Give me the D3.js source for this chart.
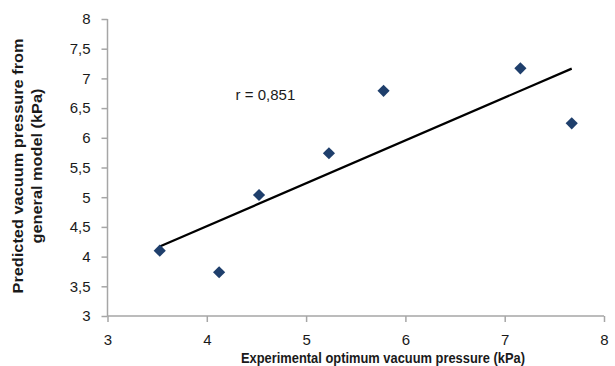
<!DOCTYPE html>
<html>
<head>
<meta charset="utf-8">
<script src="https://cdn.jsdelivr.net/npm/d3@7"></script>
<style>
  html, body { margin: 0; padding: 0; background: #fff; }
  svg { display: block; }
  text { font-family: "Liberation Sans", Arial, sans-serif; }
</style>
</head>
<body>
<svg id="chart" width="615" height="366"></svg>
<script>
// Data
const experimental = [3.526, 4.124, 4.526, 5.23, 5.78, 7.158, 7.675];
const predicted    = [4.10, 3.736, 5.037, 5.74, 6.79, 7.17, 6.244];
const xTicks = [3, 4, 5, 6, 7, 8];
const yTicks = [3, 3.5, 4, 4.5, 5, 5.5, 6, 6.5, 7, 7.5, 8];
const rLabel = "r = 0,851";
const xTitle = "Experimental optimum vacuum pressure (kPa)";
const yTitleLines = ["Predicted vacuum pressure from", "general model (kPa)"];

const svg = d3.select("#chart");
const x = d3.scaleLinear().domain([3, 8]).range([107.5, 604]);
const y = d3.scaleLinear().domain([3, 8]).range([316, 19]);
const fmt = d => String(d).replace(".", ",");
const axisColor = "#a6a6a6";
const labelColor = "#1a1a1a";

// X axis
const gx = svg.append("g").attr("transform", `translate(0,${y(3)})`)
  .call(d3.axisBottom(x).tickValues(xTicks).tickFormat(fmt).tickSize(6).tickPadding(12));
gx.select(".domain").attr("stroke", axisColor).attr("stroke-width", 1.5);
gx.selectAll(".tick line").attr("stroke", axisColor).attr("stroke-width", 1.5);
gx.selectAll(".tick text").attr("font-size", 15).attr("fill", labelColor)
  .attr("font-family", "Liberation Sans, Arial, sans-serif");

// Y axis
const gy = svg.append("g").attr("transform", `translate(${x(3)},0)`)
  .call(d3.axisLeft(y).tickValues(yTicks).tickFormat(fmt).tickSize(6).tickPadding(11));
gy.select(".domain").attr("stroke", axisColor).attr("stroke-width", 1.5);
gy.selectAll(".tick line").attr("stroke", axisColor).attr("stroke-width", 1.5);
gy.selectAll(".tick text").attr("font-size", 15).attr("fill", labelColor)
  .attr("font-family", "Liberation Sans, Arial, sans-serif");

gx.select(".domain").attr("d", `M${x(3)},0H${x(8)}`);
gy.select(".domain").attr("d", `M0,${y(3)}V${y(8)}`);

// Linear trend line (least squares)
const n = experimental.length;
const mx = d3.mean(experimental), my = d3.mean(predicted);
let sxy = 0, sxx = 0;
for (let i = 0; i < n; i++) {
  sxy += (experimental[i] - mx) * (predicted[i] - my);
  sxx += (experimental[i] - mx) ** 2;
}
const slope = sxy / sxx, intercept = my - slope * mx;
const xmin = d3.min(experimental), xmax = d3.max(experimental);
svg.append("line")
  .attr("x1", x(xmin)).attr("y1", y(intercept + slope * xmin))
  .attr("x2", x(xmax)).attr("y2", y(intercept + slope * xmax))
  .attr("stroke", "#000").attr("stroke-width", 2.2);

// Points (diamonds)
const diamond = d3.symbol().type(d3.symbolSquare).size(74);
svg.append("g").selectAll("path").data(experimental).join("path")
  .attr("d", diamond)
  .attr("transform", (d, i) => `translate(${x(d)},${y(predicted[i])}) rotate(45)`)
  .attr("fill", "#1f3f6c");

// r label
svg.append("text").attr("x", x(4.29)).attr("y", y(6.63))
  .attr("font-size", 15).attr("fill", labelColor).text(rLabel);

// X title
svg.append("text").attr("x", 383).attr("y", 362.5)
  .attr("text-anchor", "middle").attr("font-size", 14.5).attr("font-weight", "bold")
  .attr("fill", labelColor)
  .attr("textLength", 284).attr("lengthAdjust", "spacingAndGlyphs")
  .text(xTitle);

// Y title (two lines, rotated)
const yt = svg.append("g").attr("transform", "translate(0,166) rotate(-90)");
yt.append("text").attr("x", 0).attr("y", 23)
  .attr("text-anchor", "middle").attr("font-size", 15.5).attr("font-weight", "bold")
  .attr("fill", labelColor)
  .attr("textLength", 255).attr("lengthAdjust", "spacingAndGlyphs")
  .text(yTitleLines[0]);
yt.append("text").attr("x", 0).attr("y", 42)
  .attr("text-anchor", "middle").attr("font-size", 15.5).attr("font-weight", "bold")
  .attr("fill", labelColor)
  .attr("textLength", 155).attr("lengthAdjust", "spacingAndGlyphs")
  .text(yTitleLines[1]);
</script>
</body>
</html>
